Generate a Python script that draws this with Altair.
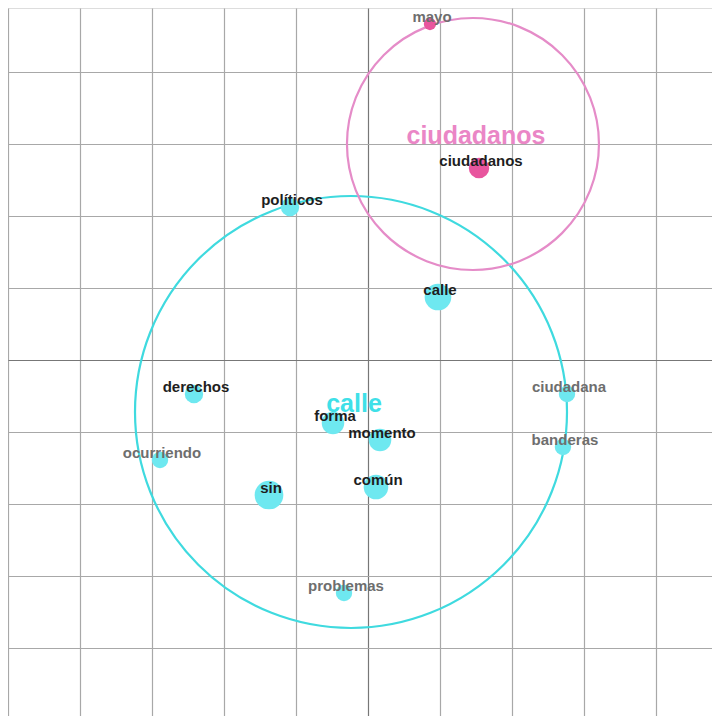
import altair as alt
import pandas as pd

# words (position in grid units, weight ~ dot radius, cluster)
palabras = ["mayo", "ciudadanos", "políticos", "calle", "derechos", "ciudadana",
            "forma", "momento", "banderas", "ocurriendo", "sin", "común", "problemas"]
px = [0.861, 1.542, -1.083, 0.972, -2.417, 2.764, -0.486, 0.167, 2.708, -2.889, -1.375, 0.111, -0.333]
py = [4.667, 2.667, 2.125, 0.875, -0.472, -0.472, -0.875, -1.111, -1.208, -1.389, -1.875, -1.764, -3.236]
peso = [6, 10, 9, 13, 9, 8, 11, 11, 8, 8, 14, 12, 8]
grupo = ["ciudadanos", "ciudadanos", "calle", "calle", "calle", "calle",
         "calle", "calle", "calle", "calle", "calle", "calle", "calle"]

# clusters (center and radius in grid units)
clusters = ["calle", "ciudadanos"]
cx = [-0.236, 1.458]
cy = [-0.722, 3.0]
radio = [3.0, 1.75]

words = pd.DataFrame({"palabra": palabras, "x": px, "y": py, "peso": peso, "grupo": grupo})
cl = pd.DataFrame({"grupo": clusters, "x": cx, "y": cy, "radio": radio})

W, H = 704, 708
xs = alt.Scale(domain=[-5, 4.778], nice=False, zero=False)
ys = alt.Scale(domain=[-4.944, 4.889], nice=False, zero=False)

gridcond = alt.condition("datum.value == 0", alt.value("#777777"), alt.value("#a8a8a8"))
xaxis = alt.Axis(values=list(range(-5, 5)), grid=True, labels=False, ticks=False,
                 domain=False, title=None, gridColor=gridcond, gridWidth=1.2)
yaxis = alt.Axis(values=list(range(-4, 5)), grid=True, labels=False, ticks=False,
                 domain=False, title=None, gridColor=gridcond, gridWidth=1.2)

line_colors = alt.Scale(domain=clusters, range=["#3fdadf", "#e58cc8"])
dot_colors = alt.Scale(domain=clusters, range=["#6ee8f0", "#e8559e"])
label_colors = alt.Scale(domain=clusters, range=["#3fe0e8", "#ea86c6"])

base_cl = alt.Chart(cl).encode(
    x=alt.X("x:Q", scale=xs, axis=xaxis),
    y=alt.Y("y:Q", scale=ys, axis=yaxis),
)

rings = base_cl.mark_point(shape="circle", filled=False, strokeWidth=2.2, opacity=1).encode(
    size=alt.Size("radio:Q", scale=alt.Scale(type="pow", exponent=2, domain=[0, 1], range=[0, 20736]), legend=None),
    stroke=alt.Color("grupo:N", scale=line_colors, legend=None),
)

cl_labels = base_cl.mark_text(fontSize=25, fontWeight="bold", font="Liberation Sans", dy=-8, dx=3).encode(
    text="grupo:N",
    color=alt.Color("grupo:N", scale=label_colors, legend=None),
)

base_w = alt.Chart(words).encode(
    x=alt.X("x:Q", scale=xs, axis=xaxis),
    y=alt.Y("y:Q", scale=ys, axis=yaxis),
)

dots = base_w.mark_circle(opacity=1).encode(
    size=alt.Size("peso:Q", scale=alt.Scale(type="pow", exponent=2, domain=[0, 10], range=[0, 420]), legend=None),
    color=alt.Color("grupo:N", scale=dot_colors, legend=None),
)

w_labels = base_w.mark_text(fontSize=15, fontWeight="bold", font="Liberation Sans", dy=-7, dx=2).encode(
    text="palabra:N",
    color=alt.Color("peso:Q", scale=alt.Scale(type="threshold", domain=[9], range=["#6e6e6e", "#1e1e1e"]), legend=None),
)

chart = alt.layer(rings, dots, cl_labels, w_labels).resolve_scale(
    size="independent", color="independent"
).properties(
    width=W, height=H, padding=0, autosize=alt.AutoSizeParams(type="none")
).configure_view(strokeWidth=0).configure(background="white")

chart.save("out.html", embed_options={"renderer": "svg", "actions": False})
